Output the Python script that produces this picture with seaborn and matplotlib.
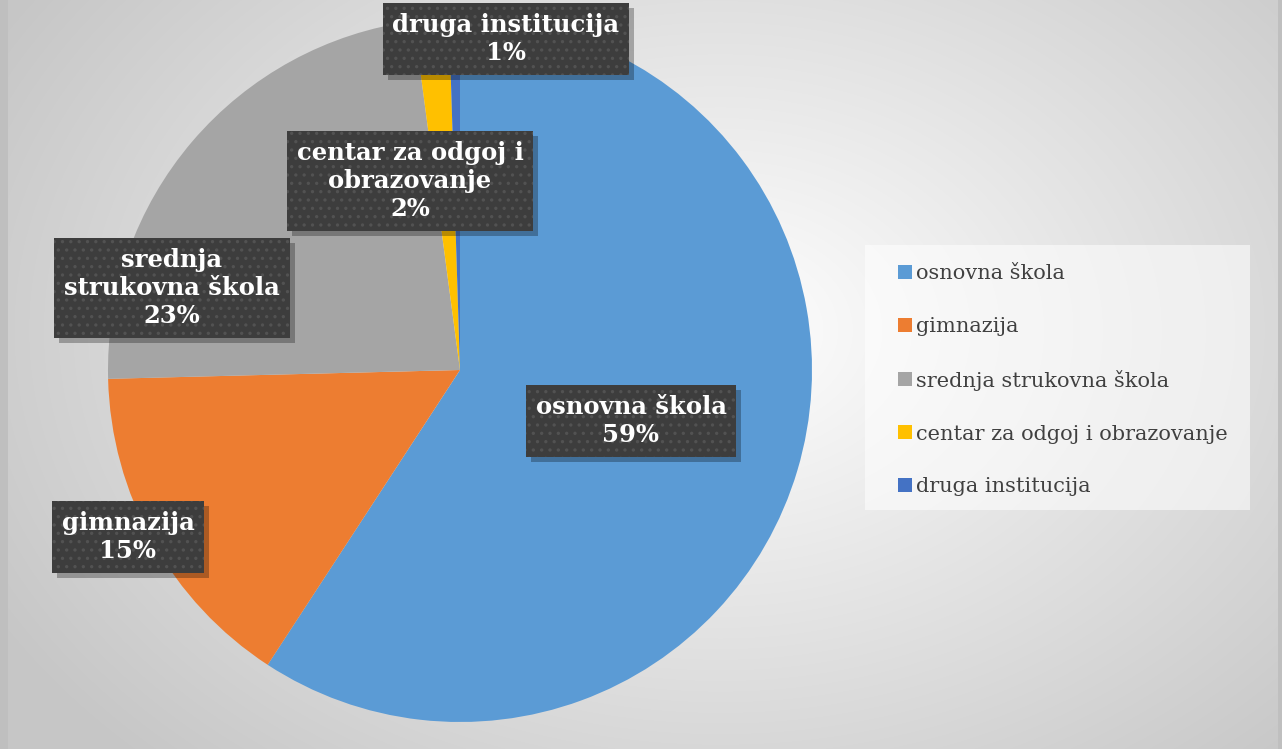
import numpy as np
import matplotlib
matplotlib.use("Agg")
import matplotlib.pyplot as plt
import matplotlib.patches as mpatches
import matplotlib.transforms as mtransforms
import seaborn as sns

categories = ["osnovna škola", "gimnazija", "srednja strukovna škola",
              "centar za odgoj i obrazovanje", "druga institucija"]
values = [59.2, 15.4, 23.3, 1.6, 0.5]
pct_labels = ["59%", "15%", "23%", "2%", "1%"]
label_text = ["osnovna škola", "gimnazija", "srednja\nstrukovna škola",
              "centar za odgoj i\nobrazovanje", "druga institucija"]
colors = ["#5B9BD5", "#ED7D31", "#A5A5A5", "#FFC000", "#4472C4"]

sns.set_theme(style="white")
plt.rcParams["font.family"] = ["DejaVu Serif", "DejaVu Sans"]
plt.rcParams["hatch.linewidth"] = 1.2

W, H = 1282, 749
fig = plt.figure(figsize=(W / 100, H / 100), dpi=100)

# background radial gradient
bg = fig.add_axes([0, 0, 1, 1], zorder=-10)
yy, xx = np.mgrid[0:H, 0:W]
d = np.sqrt(((xx - 720) / 900.0) ** 2 + ((yy - 330) / 650.0) ** 2)
g = np.clip(1.0 - 0.24 * d, 0.78, 1.0)
img = np.dstack([g, g, g])
img[:, :8] = 0.75
img[:, 1278:] = 0.75
bg.imshow(img, aspect="auto", extent=[0, W, H, 0], interpolation="bilinear")
bg.set_xlim(0, W)
bg.set_ylim(H, 0)
bg.axis("off")
# legend background panel
bg.add_patch(mpatches.Rectangle((865, 245), 385, 265, facecolor=(1, 1, 1, 0.55),
                                edgecolor="none"))

cx, cy, R = 460, 370, 352
ax = fig.add_axes([(cx - R) / W, (H - cy - R) / H, 2 * R / W, 2 * R / H])
pal = sns.color_palette(colors)
wedges, _ = ax.pie(values, colors=pal, startangle=90, counterclock=False,
                   radius=1.0, wedgeprops=dict(linewidth=0))
ax.set_xlim(-1, 1)
ax.set_ylim(-1, 1)
ax.set_aspect("equal")
ax.axis("off")

# label box centres in pixels
label_pos = [(631, 421), (128, 537), (172, 288), (410, 181), (506, 39)]

texts = []
for (px, py), lt, pt in zip(label_pos, label_text, pct_labels):
    xd = (px - cx) / R
    yd = (cy - py) / R
    s = lt + "\n" + pt
    t = ax.text(xd, yd, s, color="white", zorder=6, ha="center", va="center",
                fontsize=17.5, fontweight="bold", linespacing=1.2, clip_on=False,
                bbox=dict(boxstyle="square,pad=0.4", facecolor="#3d3d3d",
                          edgecolor="#525252", linewidth=0, hatch=".."))
    texts.append(t)

fig.canvas.draw()
ident = mtransforms.IdentityTransform()
for t in texts:
    bb = t.get_bbox_patch().get_window_extent()
    sh = mpatches.Rectangle((bb.x0 + 5, bb.y0 - 5), bb.width, bb.height,
                            facecolor=(0, 0, 0, 0.28), edgecolor="none",
                            transform=ident, zorder=5, clip_on=False)
    ax.add_patch(sh)

handles = [mpatches.Patch(facecolor=c, edgecolor="none") for c in pal]
leg = fig.legend(handles, categories, loc="upper left",
                 bbox_to_anchor=(892 / W, 1 - 258 / H), frameon=False,
                 fontsize=15, labelspacing=1.62, handlelength=0.65,
                 handleheight=0.65, handletextpad=0.2, borderpad=0.3,
                 borderaxespad=0, labelcolor="#404040")

fig.savefig("out.png", dpi=100)
